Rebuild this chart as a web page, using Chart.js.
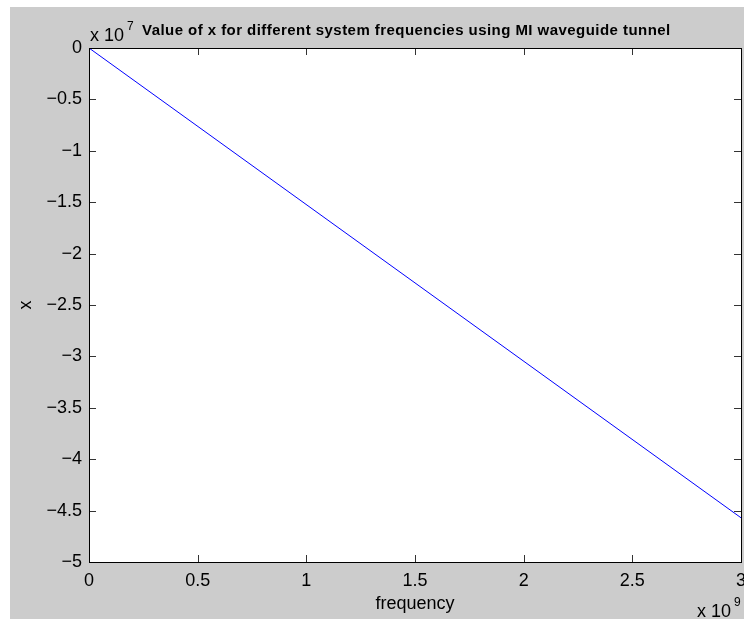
<!DOCTYPE html>
<html>
<head>
<meta charset="utf-8">
<script src="https://cdn.jsdelivr.net/npm/chart.js@4"></script>
<style>
  html, body { margin: 0; padding: 0; background: #ffffff; width: 744px; height: 619px; overflow: hidden; }
  #fig { position: absolute; left: 10px; top: 7px; width: 734px; height: 612px; background: #cccccc; }
  canvas { display: block; }
</style>
</head>
<body>
<div id="fig"><canvas id="c" width="734" height="612"></canvas></div>
<script>
// frequency sweep (Hz) and the resulting x values
const frequencies = [0, 3.0e9];
const xValues = [0, -4.57e7];

// axis limits and tick steps
const freqLimits = [0, 3e9];
const freqStep = 0.5e9;
const xLimits = [-5e7, 0];
const xStep = 0.5e7;
const freqExponent = 9;
const xExponent = 7;

const titleText = 'Value of x for different system frequencies using MI waveguide tunnel';
const xAxisLabel = 'frequency';
const yAxisLabel = 'x';

const FONT = '"Liberation Sans", Arial, Helvetica, sans-serif';
const MINUS = '\u2212';

function fmt(v) {
  const r = Math.round(v * 100) / 100;
  const s = String(Math.abs(r));
  return r < 0 ? MINUS + s : s;
}

// box around the axes, inward tick marks and the extra texts
const matlabAxes = {
  id: 'matlabAxes',
  beforeDraw(chart) {
    const { ctx, chartArea: a } = chart;
    ctx.save();
    ctx.fillStyle = '#ffffff';
    ctx.fillRect(a.left, a.top, a.right - a.left, a.bottom - a.top);
    ctx.restore();
  },
  afterDraw(chart) {
    const { ctx, chartArea: a, scales } = chart;
    const xs = scales.x, ys = scales.y;
    const L = Math.round(a.left), R = Math.round(a.right);
    const T = Math.round(a.top), B = Math.round(a.bottom);
    ctx.save();
    // inward ticks on all four sides
    ctx.fillStyle = '#333333';
    const tl = 7;
    xs.getTicks().forEach(t => {
      const px = Math.round(xs.getPixelForValue(t.value));
      ctx.fillRect(px, B - tl, 1, tl);
      ctx.fillRect(px, T, 1, tl);
    });
    ys.getTicks().forEach(t => {
      const py = Math.round(ys.getPixelForValue(t.value));
      ctx.fillRect(L, py, tl, 1);
      ctx.fillRect(R - tl, py, tl, 1);
    });
    // axes box
    ctx.fillStyle = '#000000';
    ctx.fillRect(L, T, R - L + 1, 1);
    ctx.fillRect(L, B, R - L + 1, 1);
    ctx.fillRect(L, T, 1, B - T + 1);
    ctx.fillRect(R, T, 1, B - T + 1);

    // title
    ctx.font = 'bold 15px ' + FONT;
    ctx.letterSpacing = '0.45px';
    ctx.textAlign = 'left';
    ctx.textBaseline = 'alphabetic';
    ctx.fillText(titleText, a.left + 53, a.top - 13);
    ctx.letterSpacing = '0px';

    // exponent labels
    function expLabel(x, y, exp) {
      ctx.font = '18px ' + FONT;
      ctx.textAlign = 'left';
      ctx.textBaseline = 'alphabetic';
      const base = 'x 10';
      ctx.fillText(base, x, y);
      const w = ctx.measureText(base).width;
      ctx.font = '12px ' + FONT;
      ctx.fillText(String(exp), x + w + 3, y - 11);
    }
    expLabel(a.left + 1, a.top - 7, xExponent);
    expLabel(a.right - 44, a.bottom + 55, freqExponent);

    // axis labels
    ctx.font = '18px ' + FONT;
    ctx.textAlign = 'center';
    ctx.textBaseline = 'middle';
    ctx.fillText(xAxisLabel, (a.left + a.right) / 2, a.bottom + 42);
    ctx.save();
    ctx.translate(a.left - 63, (a.top + a.bottom) / 2);
    ctx.rotate(-Math.PI / 2);
    ctx.fillText(yAxisLabel, 0, 0);
    ctx.restore();
    ctx.restore();
  }
};

new Chart(document.getElementById('c'), {
  type: 'line',
  data: {
    datasets: [{
      data: frequencies.map((f, i) => ({ x: f, y: xValues[i] })),
      borderColor: '#0000ff',
      borderWidth: 1,
      pointRadius: 0,
      fill: false,
      tension: 0
    }]
  },
  options: {
    responsive: false,
    animation: false,
    devicePixelRatio: 1,
    layout: { padding: { top: 41, right: 3, left: 0, bottom: 0 } },
    plugins: { legend: { display: false }, tooltip: { enabled: false }, title: { display: false } },
    scales: {
      x: {
        type: 'linear',
        min: freqLimits[0], max: freqLimits[1],
        grid: { display: false, drawTicks: false, tickLength: 0 },
        border: { display: false },
        ticks: {
          stepSize: freqStep,
          color: '#000000',
          font: { family: FONT, size: 18 },
          padding: 8,
          maxRotation: 0,
          autoSkip: false,
          callback: v => fmt(v / Math.pow(10, freqExponent))
        },
        afterFit(scale) { scale.height = 57; scale.paddingLeft = 0; scale.paddingRight = 0; }
      },
      y: {
        type: 'linear',
        min: xLimits[0], max: xLimits[1],
        grid: { display: false, drawTicks: false, tickLength: 0 },
        border: { display: false },
        ticks: {
          stepSize: xStep,
          color: '#000000',
          font: { family: FONT, size: 18 },
          padding: 7,
          autoSkip: false,
          callback: v => fmt(v / Math.pow(10, xExponent))
        },
        afterFit(scale) { scale.width = 79; scale.paddingTop = 0; scale.paddingBottom = 0; }
      }
    }
  },
  plugins: [matlabAxes]
});
</script>
</body>
</html>
